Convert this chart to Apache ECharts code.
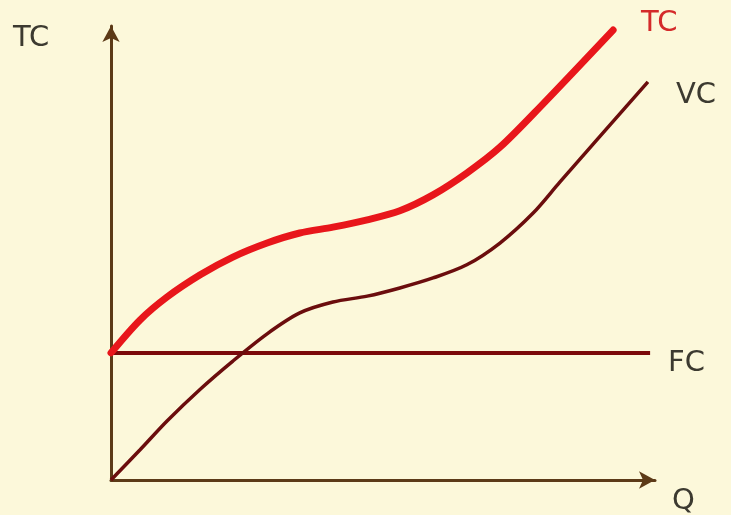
<!DOCTYPE html>
<html>
<head>
<meta charset="utf-8">
<script src="https://cdn.jsdelivr.net/npm/echarts@6/dist/echarts.min.js"></script>
<style>
  html, body { margin: 0; padding: 0; background: #FCF8DA; }
  #chart { width: 731px; height: 515px; }
</style>
</head>
<body>
<div id="chart"></div>
<script>
// Output quantity (Q) sample points and cost values for each curve
const tcQ    = [0, 0.53, 1.03, 1.64, 2.24, 2.87, 3.47, 4.08, 4.71, 5.31, 5.92, 6.54, 7.15, 7.89, 9.23];
const tcCost = [28, 35.2, 40.3, 45.2, 49.1, 52.2, 54.4, 55.7, 57.3, 59.3, 62.8, 67.6, 73.3, 82.2, 99.1];

const vcQ    = [0, 0.53, 1.03, 1.64, 2.24, 2.87, 3.47, 4.08, 4.71, 5.31, 5.92, 6.54, 7.15, 7.76, 8.25, 9.87];
const vcCost = [0, 6.6, 13.0, 20.0, 26.2, 32.2, 36.8, 39.2, 40.5, 42.3, 44.5, 47.4, 52.2, 58.8, 65.6, 87.7];

const fcQ    = [0, 9.91];
const fcCost = [28, 28];

const seriesNames = ['TC', 'VC', 'FC'];
const axisNames = { y: 'TC', x: 'Q' };

const pairs = (xs, ys) => xs.map((x, i) => [x, ys[i]]);

const chart = echarts.init(document.getElementById('chart'));
const axisColor = '#5C3A17';
const textFont = '"DejaVu Sans", sans-serif';
const textWeight = 'normal';
const textSize = 29;

chart.setOption({
  backgroundColor: '#FCF8DA',
  animation: false,
  grid: { left: 111, right: 76, top: 26, bottom: 35 },
  xAxis: {
    type: 'value', min: 0, max: 10,
    axisLine: { show: true, onZero: false, symbol: ['none', 'arrow'], symbolSize: [13, 16],
                lineStyle: { color: axisColor, width: 3 } },
    axisTick: { show: false }, axisLabel: { show: false }, splitLine: { show: false }
  },
  yAxis: {
    type: 'value', min: 0, max: 100,
    axisLine: { show: true, onZero: false, symbol: ['none', 'arrow'], symbolSize: [13, 16],
                lineStyle: { color: axisColor, width: 3 } },
    axisTick: { show: false }, axisLabel: { show: false }, splitLine: { show: false }
  },
  graphic: [
    { type: 'text', left: 13, top: 24,
      style: { text: axisNames.y, fontSize: textSize, fontWeight: textWeight, fontFamily: textFont, fill: '#3C3A30' } },
    { type: 'text', left: 672, top: 487,
      style: { text: axisNames.x, fontSize: textSize, fontWeight: textWeight, fontFamily: textFont, fill: '#3C3A30' } }
  ],
  series: [
    {
      name: seriesNames[0], type: 'line', data: pairs(tcQ, tcCost), smooth: 0.3,
      showSymbol: false, z: 3,
      lineStyle: { color: '#E8161B', width: 7, cap: 'round' },
      endLabel: { show: true, formatter: seriesNames[0], color: '#D42A2A', fontSize: textSize,
                  fontWeight: textWeight, fontFamily: textFont, offset: [20, -7] }
    },
    {
      name: seriesNames[1], type: 'line', data: pairs(vcQ, vcCost), smooth: 0.3,
      showSymbol: false, z: 2,
      lineStyle: { color: '#6B0D0D', width: 3.5 },
      endLabel: { show: true, formatter: seriesNames[1], color: '#3C3A30', fontSize: textSize,
                  fontWeight: textWeight, fontFamily: textFont, offset: [20, 14] }
    },
    {
      name: seriesNames[2], type: 'line', data: pairs(fcQ, fcCost),
      showSymbol: false, z: 1,
      lineStyle: { color: '#7B0A0A', width: 4 },
      endLabel: { show: true, formatter: seriesNames[2], color: '#3C3A30', fontSize: textSize,
                  fontWeight: textWeight, fontFamily: textFont, offset: [10, 11] }
    }
  ]
});
</script>
</body>
</html>
